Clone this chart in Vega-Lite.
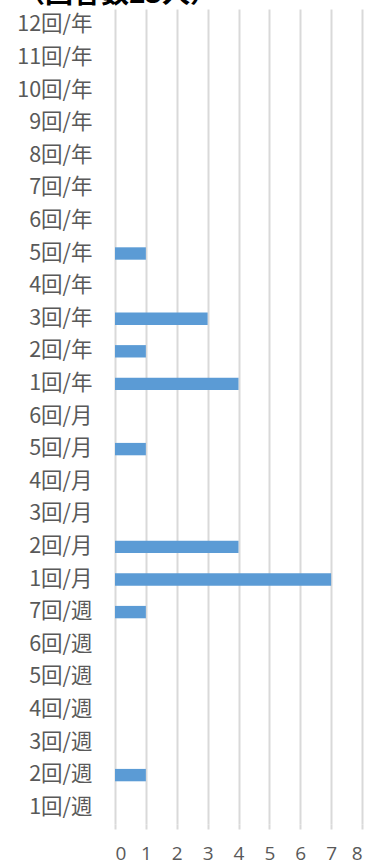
{
  "$schema": "https://vega.github.io/schema/vega-lite/v6.json",
  "width": 247,
  "height": 815,
  "autosize": "none",
  "padding": {"left": 115, "top": 9, "right": 10, "bottom": 40},
  "title": {
    "text": "（回答数23人）",
    "anchor": "start",
    "frame": "group",
    "orient": "top",
    "dx": -98,
    "offset": 0,
    "font": "Noto Sans CJK JP",
    "fontSize": 28,
    "fontWeight": "bold",
    "color": "#000000"
  },
  "config": {
    "view": {"stroke": null},
    "font": "Noto Sans CJK JP"
  },
  "data": {
    "values": [
      {"category": "12回/年", "count": 0},
      {"category": "11回/年", "count": 0},
      {"category": "10回/年", "count": 0},
      {"category": "9回/年", "count": 0},
      {"category": "8回/年", "count": 0},
      {"category": "7回/年", "count": 0},
      {"category": "6回/年", "count": 0},
      {"category": "5回/年", "count": 1},
      {"category": "4回/年", "count": 0},
      {"category": "3回/年", "count": 3},
      {"category": "2回/年", "count": 1},
      {"category": "1回/年", "count": 4},
      {"category": "6回/月", "count": 0},
      {"category": "5回/月", "count": 1},
      {"category": "4回/月", "count": 0},
      {"category": "3回/月", "count": 0},
      {"category": "2回/月", "count": 4},
      {"category": "1回/月", "count": 7},
      {"category": "7回/週", "count": 1},
      {"category": "6回/週", "count": 0},
      {"category": "5回/週", "count": 0},
      {"category": "4回/週", "count": 0},
      {"category": "3回/週", "count": 0},
      {"category": "2回/週", "count": 1},
      {"category": "1回/週", "count": 0}
    ]
  },
  "mark": {"type": "bar", "color": "#5B9BD5"},
  "encoding": {
    "y": {
      "field": "category",
      "type": "nominal",
      "sort": null,
      "scale": {"paddingInner": 0.62, "paddingOuter": 0.31},
      "axis": {
        "title": null,
        "ticks": false,
        "domain": false,
        "grid": false,
        "labelPadding": 23,
        "labelFontSize": 21.5,
        "labelColor": "#595959",
        "labelFont": "Noto Sans CJK JP"
      }
    },
    "x": {
      "field": "count",
      "type": "quantitative",
      "scale": {"domain": [0, 8], "nice": false},
      "axis": {
        "title": null,
        "values": [0, 1, 2, 3, 4, 5, 6, 7, 8],
        "labelOverlap": false,
        "domain": false,
        "grid": true,
        "gridColor": "#d9d9d9",
        "gridWidth": 2,
        "ticks": true,
        "tickColor": "#d9d9d9",
        "tickWidth": 2,
        "tickSize": 5,
        "labelPadding": 15,
        "labelFontSize": 19,
        "labelColor": "#595959",
        "labelFont": "Open Sans"
      }
    }
  }
}
